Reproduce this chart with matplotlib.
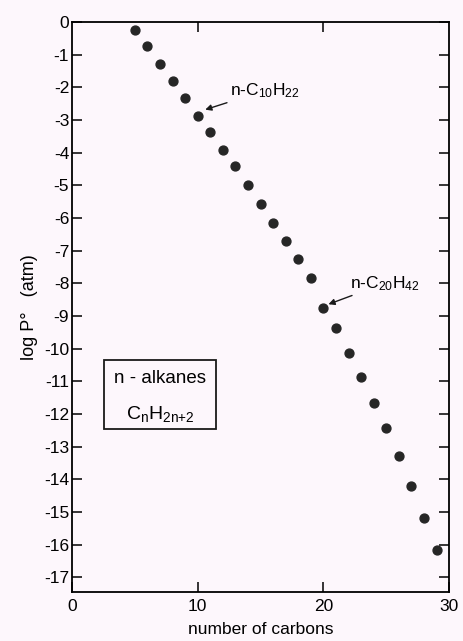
import matplotlib
matplotlib.use("Agg")
import matplotlib.pyplot as plt
from matplotlib.patches import Rectangle

plt.rcParams["font.family"] = ["Liberation Sans", "DejaVu Sans"]
plt.rcParams["mathtext.fontset"] = "custom"
plt.rcParams["mathtext.rm"] = "Liberation Sans"
plt.rcParams["mathtext.default"] = "regular"
plt.rcParams["axes.unicode_minus"] = False

# n-alkanes, C5 .. C29
n_carbons = list(range(5, 30))
log_p = [-0.24, -0.72, -1.27, -1.79, -2.31, -2.86, -3.37, -3.92, -4.42, -4.99,
         -5.57, -6.15, -6.70, -7.26, -7.85, -8.76, -9.37, -10.12, -10.87, -11.67,
         -12.43, -13.30, -14.22, -15.18, -16.18]

x_ticks = [0, 10, 20, 30]
y_ticks = list(range(0, -18, -1))

bg = "#fdf7fc"
fig = plt.figure(figsize=(4.63, 6.41), dpi=100, facecolor=bg)
ax = fig.add_axes([0.1555, 0.0765, 0.8145, 0.889])
ax.set_facecolor(bg)

ax.plot(n_carbons, log_p, "o", color="#262626", ms=6.4, mec="#262626")

ax.set_xlim(0, 30)
ax.set_ylim(-17.45, 0)
ax.set_xticks(x_ticks)
ax.set_yticks(y_ticks)
ax.set_yticklabels([str(v) for v in y_ticks])

ax.tick_params(axis="y", direction="in", length=7, width=1.1, labelsize=12.5, pad=2,
               right=True, left=True)
ax.tick_params(axis="x", direction="in", length=7, width=1.1, labelsize=12.5, pad=5)
for s in ax.spines.values():
    s.set_linewidth(1.3)

# top ticks at 10 and 20
sec = ax.secondary_xaxis("top")
sec.set_xticks([10, 20])
sec.set_xticklabels([])
sec.tick_params(direction="in", length=7, width=1.1)
sec.spines["top"].set_visible(False)

ax.set_xlabel("number of carbons", fontsize=12.5, labelpad=6)
ax.set_ylabel("log P°   (atm)", fontsize=13, labelpad=4)

arrow = dict(arrowstyle="-|>", color="#1a1a1a", lw=1.0, mutation_scale=9,
             shrinkA=0, shrinkB=0)
ax.annotate("n-C$_{10}$H$_{22}$", xy=(10.6, -2.68), xytext=(12.55, -2.1),
            fontsize=12.5, ha="left", va="center", arrowprops=arrow)
ax.annotate("n-C$_{20}$H$_{42}$", xy=(20.4, -8.64), xytext=(22.1, -8.0),
            fontsize=12.5, ha="left", va="center", arrowprops=arrow)

# label box
ax.add_patch(Rectangle((0.084, 0.286), 0.298, 0.121, transform=ax.transAxes,
                       fill=False, lw=1.3, color="#1a1a1a"))
ax.text(0.233, 0.375, "n - alkanes", transform=ax.transAxes, fontsize=13.5,
        ha="center", va="center")
ax.text(0.233, 0.313, "C$_n$H$_{2n{+}2}$", transform=ax.transAxes, fontsize=14,
        ha="center", va="center")

fig.savefig("out.png", dpi=100, facecolor=bg)
